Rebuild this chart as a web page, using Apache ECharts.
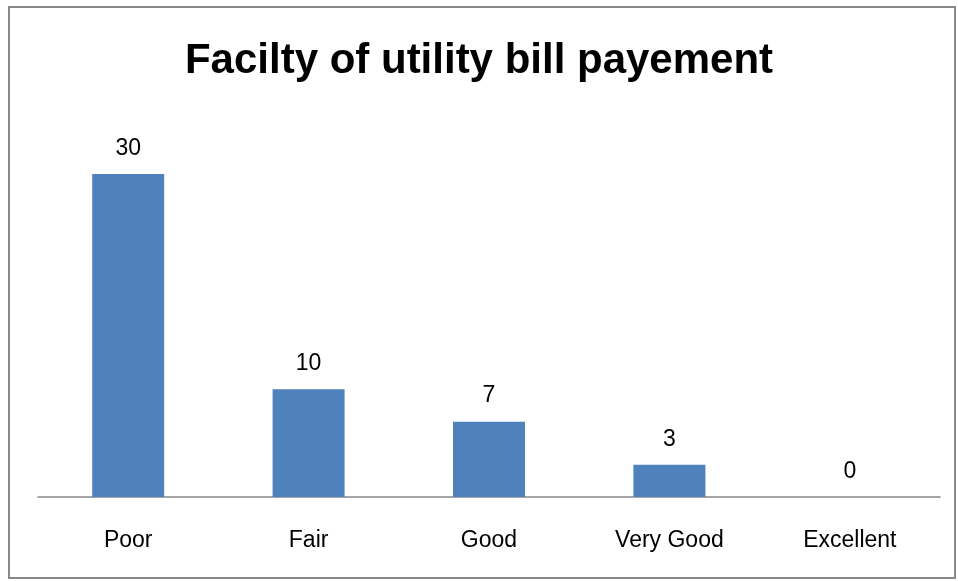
<!DOCTYPE html>
<html>
<head>
<meta charset="utf-8">
<script src="https://cdn.jsdelivr.net/npm/echarts@6/dist/echarts.min.js"></script>
<style>
html,body{margin:0;padding:0;background:#fff;}
#chart{width:958px;height:581px;}
</style>
</head>
<body>
<div id="chart"></div>
<script>
const titleText = 'Facilty of utility bill payement';
const categories = ['Poor', 'Fair', 'Good', 'Very Good', 'Excellent'];
const values = [30, 10, 7, 3, 0];

const chart = echarts.init(document.getElementById('chart'));
const fontFam = '"Liberation Sans", Arial, sans-serif';
chart.setOption({
  animation: false,
  backgroundColor: '#ffffff',
  title: {
    text: titleText,
    left: 'center',
    top: 35,
    textStyle: { fontFamily: fontFam, fontWeight: 'bold', fontSize: 42, color: '#000' }
  },
  graphic: [{
    type: 'rect',
    shape: { x: 9, y: 7, width: 946, height: 571 },
    style: { fill: 'none', stroke: '#898989', lineWidth: 2 },
    silent: true
  }],
  grid: { left: 38, right: 18, top: 174, bottom: 84 },
  xAxis: {
    type: 'category',
    data: categories,
    axisLine: { lineStyle: { color: '#888888', width: 1.5 } },
    axisTick: { show: false },
    axisLabel: { fontFamily: fontFam, fontSize: 23, color: '#000', margin: 32 }
  },
  yAxis: {
    type: 'value', min: 0, max: 30, show: false,
    splitLine: { show: false }
  },
  series: [{
    type: 'bar',
    data: values,
    barWidth: 72,
    itemStyle: { color: '#4F81BD' },
    label: {
      show: true, position: 'top', distance: 14,
      fontFamily: fontFam, fontSize: 23, color: '#000'
    }
  }]
});
</script>
</body>
</html>
